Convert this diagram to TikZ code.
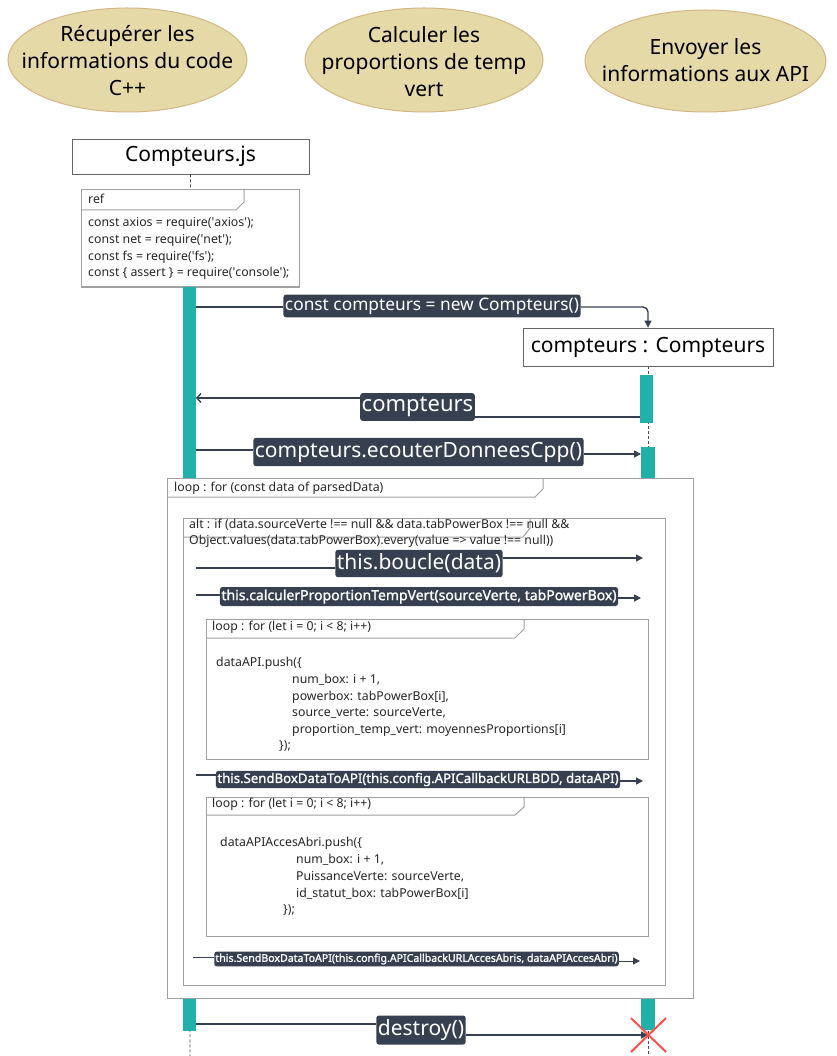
\documentclass[tikz,border=0pt]{standalone}
\usepackage{fontspec}
\setmainfont{Noto Sans}
\newfontfamily\semifont[FakeBold=1.3]{Noto Sans}
\usetikzlibrary{arrows.meta}

\definecolor{actbar}{RGB}{32,178,170}
\definecolor{msgdark}{RGB}{54,64,81}
\definecolor{framegray}{RGB}{160,160,160}
\definecolor{ellfill}{RGB}{230,217,168}
\definecolor{elldraw}{RGB}{212,182,132}
\definecolor{crossred}{RGB}{255,80,80}

\newcommand{\fs}[1]{\fontsize{#1}{#1}\selectfont}
\newcommand{\sq}{\textquotesingle}

\begin{document}
\begin{tikzpicture}[x=1pt,y=-1pt,
    usecase/.style={align=center,font=\fontsize{21}{27}\selectfont,text=black,inner sep=0pt},
    caseshape/.style={fill=ellfill,draw=elldraw,line width=1pt},
    lifebox/.style={draw=black!60,line width=0.8pt,fill=white,inner sep=0pt,font=\fs{21}},
    msglabel/.style={fill=msgdark,text=white,rounded corners=2.5pt,inner xsep=1.5pt,inner ysep=4pt,font=\fs{21}},
    codelabel/.style={msglabel,inner ysep=2.5pt,font=\semifont\fs{14}},
    wire/.style={draw=msgdark,line width=1.4pt},
    msg/.style={wire,-{Triangle[length=7pt,width=7pt]}},
    reply/.style={wire,-{Straight Barb[length=4pt,width=9pt]}},
    lifeline/.style={draw=black!70,dashed,dash pattern=on 3pt off 2pt,line width=0.6pt},
    frame/.style={draw=framegray,line width=1pt,fill=white},
    frametext/.style={anchor=west,inner sep=0pt,font=\fs{12.3},text=black!85}]
  % Boundary
  \path[use as bounding box,fill=white] (0,0) rectangle (836,1056);
  % Use cases
  \path[caseshape] (127.5,60) ellipse (119.5 and 52);
  \path[caseshape] (424,60) ellipse (119 and 52);
  \path[caseshape] (705.5,61) ellipse (120.5 and 51);
  \node[usecase] (ucA) at (127.5,60.5) {Récupérer les\\informations du code\\C++};
  \node[usecase] (ucB) at (424,61.5) {Calculer les\\proportions de temp\\vert};
  \node[usecase] (ucC) at (705.5,60.5) {Envoyer les\\informations aux API};
  % Lifelines
  \node[lifebox,minimum width=237,minimum height=35] (js) at (190.5,156.5) {Compteurs.js};
  \coordinate (jsEnd) at (190,1056);
  \coordinate (objEnd) at (648,1056);
  \draw[lifeline] (js.south) -- (jsEnd);
  \draw[lifeline] (648,366) -- (objEnd);
  % Ref frame
  \draw[frame] (81,190) rectangle (299,287);
  \draw[draw=framegray,line width=1pt] (81,210) -- (236,210) -- (244,202) -- (244,190);
  \node[frametext] at (88,199) {ref};
  \node[frametext] at (88,223) {const axios = require(\sq axios\sq);};
  \node[frametext] at (88,240) {const net = require(\sq net\sq);};
  \node[frametext] at (88,257) {const fs = require(\sq fs\sq);};
  \node[frametext] at (88,273) {const \{ assert \} = require(\sq console\sq);};
  % Activation bars
  \fill[actbar] (183,287) rectangle (196,478);
  \fill[actbar] (183,997) rectangle (196,1031);
  \fill[actbar] (640,375) rectangle (653,423);
  \fill[actbar] (641,447) rectangle (655,478);
  \fill[actbar] (641,997) rectangle (655,1030);
  % Creation
  \node[lifebox,minimum width=250,minimum height=38] (obj) at (648,347) {compteurs : Compteurs};
  \coordinate (s1) at (196,307);
  \node[msglabel,font=\fs{17.3},inner ysep=3pt] (newObj) at (432,306) {const compteurs = new Compteurs()};
  \draw[wire] (s1) -- (newObj.west |- s1);
  \draw[msg,rounded corners=5pt] (newObj.east |- s1) -- (648,307) -- (obj.north);
  % Return
  \coordinate (s2) at (640,417);
  \coordinate (t2) at (196,398);
  \node[msglabel,font=\fs{22}] (ret) at (417.5,407) {compteurs};
  \draw[wire] (s2) -- (ret.east |- s2);
  \draw[reply] (ret.west |- t2) -- (t2);
  % Listen
  \coordinate (s3) at (196,450);
  \coordinate (t3) at (641,454);
  \node[msglabel] (listen) at (418.5,452) {compteurs.ecouterDonneesCpp()};
  \draw[wire] (s3) -- (listen.west |- s3);
  \draw[msg] (listen.east |- t3) -- (t3);
  % Loop frame
  \draw[frame] (167,478) rectangle (693,998);
  \draw[draw=framegray,line width=1pt] (167,497) -- (535,497) -- (543,489) -- (543,478);
  \node[frametext] at (174,488) {loop : for (const data of parsedData)};
  % Alt frame
  \draw[frame] (183,518) rectangle (665,985);
  \draw[draw=framegray,line width=1pt] (183,537) -- (523,537) -- (530,528) -- (530,518);
  \node[frametext] at (189,525) {alt : if (data.sourceVerte !== null \&\& data.tabPowerBox !== null \&\&};
  \node[frametext] at (189,541) {Object.values(data.tabPowerBox).every(value => value !== null))};
  % Loop body
  \coordinate (s4) at (196,568);
  \coordinate (t4) at (643,558);
  \node[msglabel] (boucle) at (419,563.5) {this.boucle(data)};
  \draw[wire] (s4) -- (boucle.west |- s4);
  \draw[msg] (boucle.east |- t4) -- (t4);
  \coordinate (s5) at (196,595);
  \coordinate (t5) at (641,598);
  \node[codelabel] (calc) at (419,596.5) {this.calculerProportionTempVert(sourceVerte, tabPowerBox)};
  \draw[wire] (s5) -- (calc.west |- s5);
  \draw[msg] (calc.east |- t5) -- (t5);
  % First inner loop
  \draw[frame] (206,619) rectangle (648,759);
  \draw[draw=framegray,line width=1pt] (206,638) -- (515,638) -- (524,629) -- (524,619);
  \node[frametext] at (212,627) {loop : for (let i = 0; i < 8; i++)};
  \node[frametext] at (216,663) {dataAPI.push(\{};
  \node[frametext] at (292,680) {num\_box: i + 1,};
  \node[frametext] at (292,697) {powerbox: tabPowerBox[i],};
  \node[frametext] at (292,713) {source\_verte: sourceVerte,};
  \node[frametext] at (292,730) {proportion\_temp\_vert: moyennesProportions[i]};
  \node[frametext] at (279,746) {\});};
  \coordinate (s6) at (196,775);
  \coordinate (t6) at (643,781);
  \node[codelabel,font=\semifont\fs{13.2},inner ysep=2pt] (sendBdd) at (418,779.5) {this.SendBoxDataToAPI(this.config.APICallbackURLBDD, dataAPI)};
  \draw[wire] (s6) -- (sendBdd.west |- s6);
  \draw[msg] (sendBdd.east |- t6) -- (t6);
  % Second inner loop
  \draw[frame] (206,797) rectangle (648,936);
  \draw[draw=framegray,line width=1pt] (206,815) -- (515,815) -- (524,807) -- (524,797);
  \node[frametext] at (212,804) {loop : for (let i = 0; i < 8; i++)};
  \node[frametext] at (220,843) {dataAPIAccesAbri.push(\{};
  \node[frametext] at (296,860) {num\_box: i + 1,};
  \node[frametext] at (296,877) {PuissanceVerte: sourceVerte,};
  \node[frametext] at (296,894) {id\_statut\_box: tabPowerBox[i]};
  \node[frametext] at (283,910) {\});};
  \coordinate (s7) at (193,957);
  \coordinate (t7) at (640,961);
  \node[codelabel,font=\semifont\fs{10.6},inner ysep=2pt,inner xsep=1.2pt] (sendAbri) at (416.5,959) {this.SendBoxDataToAPI(this.config.APICallbackURLAccesAbris, dataAPIAccesAbri)};
  \draw[wire,line width=1pt] (s7) -- (sendAbri.west |- s7);
  \draw[msg,line width=1pt] (sendAbri.east |- t7) -- (t7);
  % Destroy
  \coordinate (s8) at (196,1024);
  \coordinate (t8) at (648,1035);
  \node[msglabel] (destroy) at (421,1030) {destroy()};
  \draw[wire] (s8) -- (destroy.west |- s8);
  \draw[msg] (destroy.east |- t8) -- (t8);
  \draw[crossred,line width=2pt] (631,1018) -- (666,1052) (631,1052) -- (666,1018);
\end{tikzpicture}
\end{document}
